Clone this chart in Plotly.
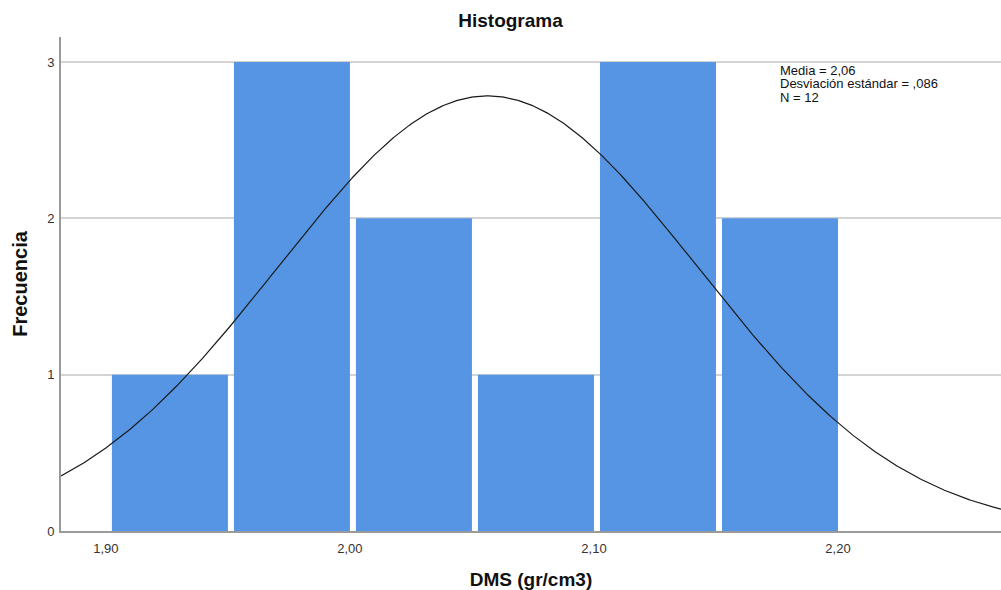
import numpy as np
import plotly.graph_objects as go

# Data
bin_starts = [1.90, 1.95, 2.00, 2.05, 2.10, 2.15]
bin_width = 0.05
counts = [1, 3, 2, 1, 3, 2]
mean_val = 2.0565
sd_val = 0.086
n_val = 12
x_tick_vals = [1.90, 2.00, 2.10, 2.20]
x_tick_text = ["1,90", "2,00", "2,10", "2,20"]
y_tick_vals = [0, 1, 2, 3]
stats_lines = ["Media = 2,06", "Desviación estándar = ,086", "N = 12"]

x_range = [1.8816, 2.2668]
y_range = [0, 3.16]

# styling: white gap on the left side of each bar
gap = 0.00246

fig = go.Figure()
fig.add_trace(go.Bar(
    x=bin_starts, y=counts,
    width=[bin_width - gap] * len(counts), offset=gap,
    marker=dict(color="#5595E4", line=dict(width=0)),
    hoverinfo="skip", showlegend=False,
))

xs = np.linspace(x_range[0], x_range[1], 500)
ys = n_val * bin_width / (sd_val * np.sqrt(2 * np.pi)) * np.exp(-0.5 * ((xs - mean_val) / sd_val) ** 2)
fig.add_trace(go.Scatter(
    x=xs, y=ys, mode="lines", line=dict(color="#1a1a1a", width=1.2),
    hoverinfo="skip", showlegend=False,
))

L, T, B, H, W = 61, 37, 59, 590, 1001
ph = H - T - B
annotations = []
for i, line in enumerate(stats_lines):
    yc = 70 + i * 13.5
    annotations.append(dict(text=line, xref="paper", yref="paper",
                            x=(778 - L) / (W - L), y=1 - (yc - T) / ph,
                            xanchor="left", yanchor="middle", align="left", showarrow=False,
                            font=dict(size=13, color="#111111")))

fig.update_layout(
    width=W, height=H,
    margin=dict(l=L, r=0, t=T, b=B),
    paper_bgcolor="white", plot_bgcolor="white",
    font=dict(family="Arial, Liberation Sans, sans-serif", color="#222222"),
    title=dict(text="<b>Histograma</b>", x=0.51, xanchor="center", y=1 - 20 / H, yanchor="middle",
               font=dict(size=19, color="#111111")),
    xaxis=dict(range=x_range, tickvals=x_tick_vals, ticktext=x_tick_text,
               showgrid=False, zeroline=False, showline=True, linecolor="#9a9a9a", linewidth=2,
               ticks="", tickfont=dict(size=13, color="#333333"), ticklabelstandoff=4,
               automargin=False,
               title=dict(text="<b>DMS (gr/cm3)</b>", font=dict(size=19, color="#111111"), standoff=22)),
    yaxis=dict(range=y_range, tickvals=y_tick_vals, ticktext=[str(v) for v in y_tick_vals],
               showgrid=True, gridcolor="#d4d4d4", gridwidth=1.5, zeroline=False,
               showline=True, linecolor="#9a9a9a", linewidth=2,
               ticks="", tickfont=dict(size=13, color="#333333"), ticklabelstandoff=2,
               automargin=False,
               title=dict(text="<b>Frecuencia</b>", font=dict(size=20, color="#111111"), standoff=14)),
    annotations=annotations,
)

fig.write_html("out.html", config={"displayModeBar": False},
               post_script="document.body.style.margin='0';document.body.style.padding='0';")
